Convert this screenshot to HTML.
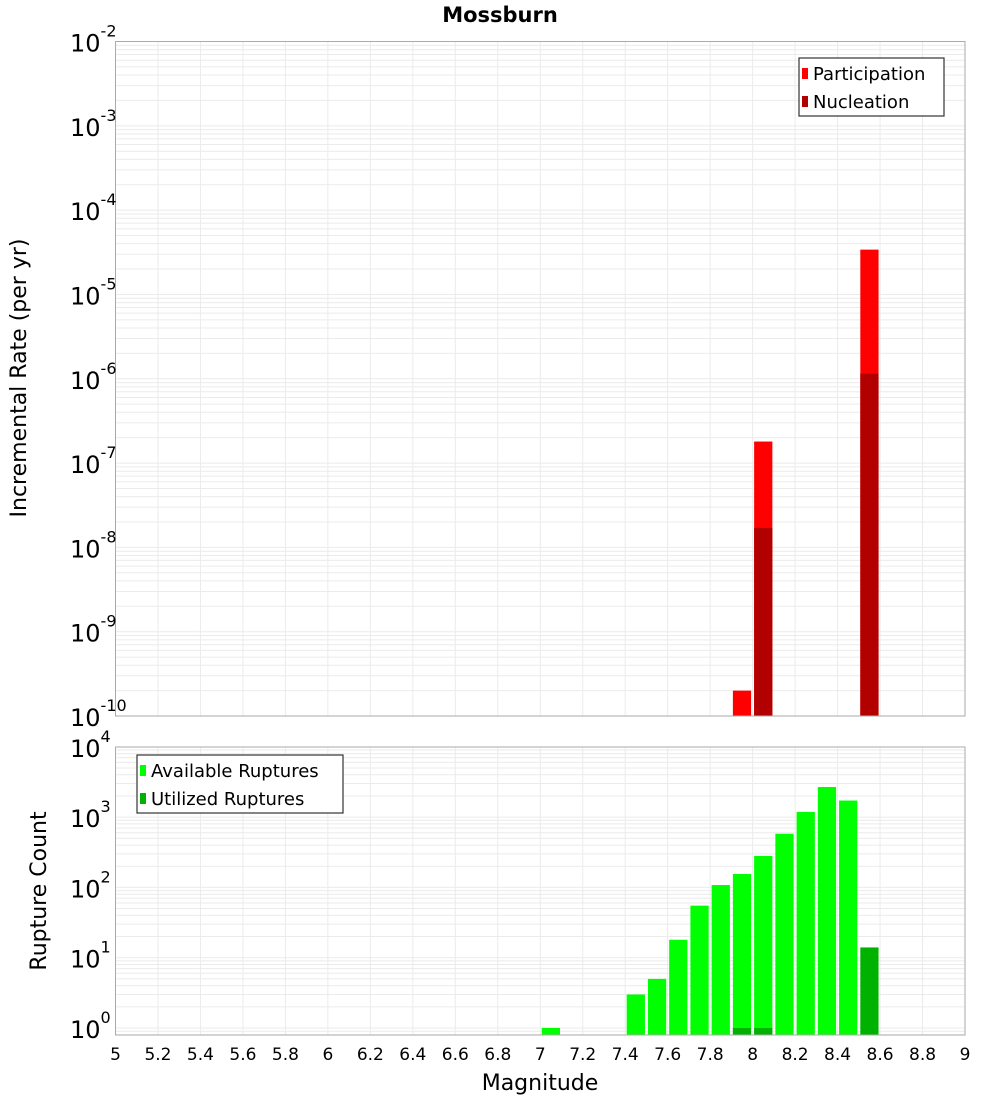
<!DOCTYPE html>
<html><head><meta charset="utf-8"><style>
body{margin:0;background:#fff}
svg{display:block;font-family:"DejaVu Sans","Liberation Sans",sans-serif}
</style></head><body>
<svg id="c" width="1000" height="1100" xmlns="http://www.w3.org/2000/svg">
<text x="500" y="22" text-anchor="middle" font-size="21" font-weight="bold">Mossburn</text>
<text transform="translate(26,378) rotate(-90)" text-anchor="middle" font-size="22">Incremental Rate (per yr)</text>
<text transform="translate(46,891) rotate(-90)" text-anchor="middle" font-size="22">Rupture Count</text>
<text x="540" y="1090" text-anchor="middle" font-size="22">Magnitude</text>
</svg>
<script>
const binStarts=[7.9,8.0,8.5];
const participation=[2e-10,1.8e-7,3.4e-5];
const nucleation=[0,1.7e-8,1.15e-6];
const ruptBins=[7.0,7.4,7.5,7.6,7.7,7.8,7.9,8.0,8.1,8.2,8.3,8.4,8.5];
const available=[1,3,5,18,55,108,155,280,580,1185,2680,1720,0];
const utilized=[0,0,0,0,0,0,1,1,0,0,0,0,14];
const xTicks=[5,5.2,5.4,5.6,5.8,6,6.2,6.4,6.6,6.8,7,7.2,7.4,7.6,7.8,8,8.2,8.4,8.6,8.8,9];
const topExps=[-2,-3,-4,-5,-6,-7,-8,-9,-10];
const botExps=[0,1,2,3,4];

const svg=document.getElementById('c');
const NS='http://www.w3.org/2000/svg';
function mk(t,a,p){const e=document.createElementNS(NS,t);for(const k in a)e.setAttribute(k,a[k]);(p||svg).appendChild(e);return e;}
const L=115.5,R=965;
const x=m=>L+(m-5)/4*(R-L);
const T0=41.5,T1=716;
const yTop=v=>T0+(-2-Math.log10(v))*(T1-T0)/8;
const B0=747,B1=1035,dec=70.3;
const yBot=v=>1028-Math.log10(v)*dec;

function grid(y0,y1,lo,hi,yf,name){
  const g=mk('g',{});
  
  
  for(let e=lo;e<=hi;e++)for(let k=1;k<10;k++){const v=k*Math.pow(10,e);const y=yf(v);if(y<y0||y>y1)continue;
    mk('line',{x1:L,x2:R,y1:y,y2:y,stroke:'#ebebeb','stroke-width':1},g);}
  xTicks.forEach(t=>mk('line',{x1:x(t),x2:x(t),y1:y0,y2:y1,stroke:'#ebebeb','stroke-width':1},g));
}
grid(T0,T1,-10,-3,yTop,'top-grid');
grid(B0,B1,-1,3,yBot,'bottom-grid');

function bar(m,v,yf,base,fill,name){
  if(!v)return;
  const r=mk('rect',{x:x(m)+1.5,width:x(m+0.1)-x(m)-3,y:yf(v),height:base-yf(v),fill:fill});
  
  
}
binStarts.forEach((m,i)=>{bar(m,participation[i],yTop,T1,'#ff0000','participation-bar');bar(m,nucleation[i],yTop,T1,'#b20000','nucleation-bar');});
ruptBins.forEach((m,i)=>{bar(m,available[i],yBot,B1,'#00ff00','available-bar');bar(m,utilized[i],yBot,B1,'#00b200','utilized-bar');});

mk('rect',{x:L,y:T0,width:R-L,height:T1-T0,fill:'none',stroke:'#aaa','stroke-width':1});
mk('rect',{x:L,y:B0,width:R-L,height:B1-B0,fill:'none',stroke:'#aaa','stroke-width':1});

function ylab(y,e){
  const t=mk('text',{x:70,y:y+10,'font-size':24});
  
  
  t.textContent='10';
  const s=mk('tspan',{dy:-15,'font-size':16},t);s.textContent=String(e);
}
topExps.forEach(e=>ylab(yTop(Math.pow(10,e)),e));
botExps.forEach(e=>ylab(yBot(Math.pow(10,e)),e));
xTicks.forEach(t=>{const e=mk('text',{x:x(t),y:1060,'text-anchor':'middle','font-size':17});
  
  
  e.textContent=String(t);});

function legend(x0,y0,w,items){
  const g=mk('g',{});
  
  
  mk('rect',{x:x0,y:y0,width:w,height:58,fill:'#fff',stroke:'#333','stroke-width':1.2},g);
  items.forEach((it,i)=>{
    mk('rect',{x:x0+3,y:y0+10+i*28,width:6,height:11,fill:it[1]},g);
    const t=mk('text',{x:x0+14,y:y0+22+i*28,'font-size':18},g);
    
    
    t.textContent=it[0];
  });
}
legend(799,58,145,[['Participation','#ff0000'],['Nucleation','#b20000']]);
legend(137,755,206,[['Available Ruptures','#00ff00'],['Utilized Ruptures','#00b200']]);
</script>
</body></html>
